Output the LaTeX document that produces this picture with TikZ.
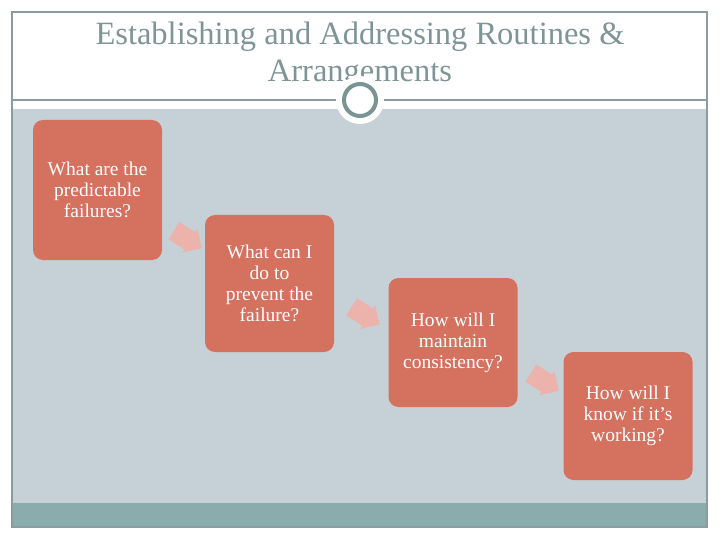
\documentclass[tikz,border=0pt]{standalone}
\usepackage{fontspec}
\setmainfont{Liberation Serif}
\usetikzlibrary{shapes.arrows,calc}
\definecolor{framec}{HTML}{8A9C9C}
\definecolor{bandc}{HTML}{C5D1D6}
\definecolor{footc}{HTML}{8AACAC}
\definecolor{boxc}{HTML}{D4715F}
\definecolor{arrc}{HTML}{EBB3AB}
\definecolor{titlec}{HTML}{7F9595}
\definecolor{ringc}{HTML}{7A9494}
\tikzset{
  qbox/.style={draw=none, fill=boxc, rounded corners=10pt, minimum width=129pt, text=white, align=center, font=\fontsize{19.5}{21}\selectfont, inner sep=0pt},
  flowarrow/.style={single arrow, fill=arrc, draw=none, minimum height=33pt, minimum width=28pt, single arrow head extend=4pt, inner sep=0pt, text width=0pt, text height=20pt}
}
\begin{document}
\begin{tikzpicture}[x=1pt,y=-1pt]
\useasboundingbox (0,0) rectangle (720,540);
\fill[white] (0,0) rectangle (720,540);
% bands
\fill[bandc] (12,109) rectangle (707,503);
\fill[footc] (12,503) rectangle (707,527);
% frame
\draw[framec, line width=1.2pt] (12,12) rectangle (707,527);
\draw[framec, line width=1.2pt] (12,100) -- (707,100);
% title
\node[text=titlec, align=center, font=\fontsize{32.5}{37}\selectfont] (title) at (360,55) {Establishing and Addressing Routines \&\\Arrangements};
% ring
\node[circle, fill=white, minimum size=48pt, inner sep=0pt] (halo) at (360,100) {};
\node[circle, draw=ringc, line width=4pt, fill=white, minimum size=32pt, inner sep=0pt] (ring) at (360,100) {};
% boxes
\node[qbox, minimum height=140pt] (b1) at (97.5,190) {What are the\\predictable\\failures?};
\node[qbox, minimum height=137pt] (b2) at (269.5,283.5) {What can I\\do to\\prevent the\\failure?};
\node[qbox, minimum height=129pt] (b3) at (453,342.5) {How will I\\maintain\\consistency?};
\node[qbox, minimum height=128pt] (b4) at (628,416) {How will I\\know if it’s\\working?};
% arrows
\node[flowarrow, rotate=-32] (a1) at ($(b1.east)!0.5!(b2.west)$) {};
\node[flowarrow, rotate=-32] (a2) at ($(b2.east)!0.5!(b3.west)$) {};
\node[flowarrow, rotate=-32] (a3) at ($(b3.east)!0.5!(b4.west)$) {};
\end{tikzpicture}
\end{document}
